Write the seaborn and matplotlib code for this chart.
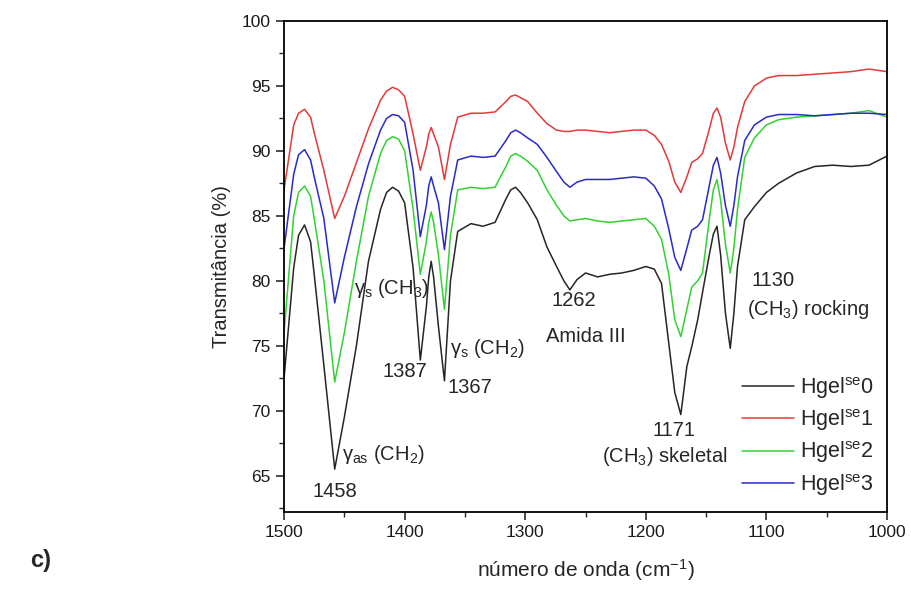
import numpy as np
import pandas as pd
import matplotlib
matplotlib.use("Agg")
import matplotlib.pyplot as plt
import seaborn as sns
from matplotlib.ticker import MultipleLocator

wavenumber = [1500, 1492, 1488, 1483, 1478, 1475, 1467, 1458, 1450, 1440,
              1430, 1420, 1415, 1410, 1405, 1400, 1393, 1387, 1382, 1380,
              1378, 1376, 1372, 1367, 1362, 1356, 1345, 1335, 1325, 1316,
              1312, 1308, 1304, 1298, 1290, 1282, 1274, 1268, 1263, 1257,
              1250, 1240, 1230, 1220, 1210, 1200, 1193, 1187, 1181, 1176,
              1171, 1166, 1162, 1157, 1153, 1147, 1144, 1141, 1138, 1134,
              1130, 1127, 1124, 1118, 1110, 1100, 1090, 1075, 1060, 1045,
              1030, 1015, 1000]

hgel0 = [72.5, 81.0, 83.5, 84.3, 83.0, 80.5, 73.5, 65.5, 69.5, 75.0,
         81.5, 85.5, 86.8, 87.2, 86.9, 86.0, 81.0, 73.9, 78.0, 80.3,
         81.5, 80.3, 76.5, 72.3, 80.0, 83.8, 84.4, 84.2, 84.5, 86.3,
         87.0, 87.2, 86.8, 86.0, 84.7, 82.6, 81.1, 80.0, 79.3, 80.1,
         80.6, 80.3, 80.5, 80.6, 80.8, 81.1, 80.9, 79.8, 75.2, 71.4,
         69.7, 73.4, 74.9, 77.0, 79.1, 82.2, 83.6, 84.2, 82.0, 77.5,
         74.8, 77.5, 81.1, 84.7, 85.7, 86.8, 87.5, 88.3, 88.8, 88.9,
         88.8, 88.9, 89.6]

hgel1 = [87.0, 92.0, 92.9, 93.2, 92.6, 91.4, 88.5, 84.8, 86.5, 89.1,
         91.7, 93.9, 94.6, 94.9, 94.7, 94.2, 91.3, 88.5, 90.3, 91.3,
         91.8, 91.3, 90.3, 87.8, 90.5, 92.6, 92.9, 92.9, 93.0, 93.8,
         94.2, 94.3, 94.1, 93.8, 92.9, 92.1, 91.6, 91.5, 91.5, 91.6,
         91.6, 91.5, 91.4, 91.5, 91.6, 91.6, 91.2, 90.5, 89.2, 87.6,
         86.8, 88.0, 89.1, 89.4, 89.8, 91.8, 92.9, 93.3, 92.6, 90.6,
         89.3, 90.3, 91.8, 93.8, 95.0, 95.6, 95.8, 95.8, 95.9, 96.0,
         96.1, 96.3, 96.1]

hgel2 = [76.0, 85.0, 86.8, 87.3, 86.5, 84.8, 80.0, 72.2, 76.0, 81.5,
         86.5, 89.8, 90.8, 91.1, 90.9, 90.0, 85.5, 80.5, 83.0, 84.5,
         85.3, 84.5, 82.0, 77.8, 83.5, 87.0, 87.2, 87.1, 87.2, 88.8,
         89.6, 89.8, 89.6, 89.2, 88.5, 87.0, 85.8, 85.0, 84.6, 84.7,
         84.8, 84.6, 84.5, 84.6, 84.7, 84.8, 84.2, 83.2, 80.5, 77.0,
         75.7, 77.8, 79.5, 80.0, 80.6, 85.0, 87.0, 87.8, 86.2, 82.8,
         80.6, 82.5, 85.5, 89.5, 91.0, 92.0, 92.4, 92.6, 92.7, 92.8,
         92.9, 93.1, 92.6]

hgel3 = [82.5, 88.2, 89.7, 90.1, 89.3, 88.0, 84.8, 78.3, 81.8, 85.7,
         89.0, 91.6, 92.5, 92.8, 92.7, 92.2, 88.5, 83.4, 85.8, 87.3,
         88.0, 87.3, 86.0, 82.4, 86.5, 89.3, 89.6, 89.5, 89.6, 90.8,
         91.4, 91.6, 91.4, 91.0, 90.5, 89.5, 88.4, 87.6, 87.2, 87.6,
         87.8, 87.8, 87.8, 87.9, 88.0, 87.9, 87.3, 86.3, 84.0, 81.8,
         80.8, 82.5, 83.9, 84.2, 84.7, 87.5, 88.9, 89.5, 88.3, 85.8,
         84.2, 85.8, 88.0, 90.8, 92.0, 92.6, 92.8, 92.8, 92.7, 92.8,
         92.9, 92.9, 92.8]

series_labels = [r"Hgel$^{se}$0", r"Hgel$^{se}$1", r"Hgel$^{se}$2", r"Hgel$^{se}$3"]
series_values = [hgel0, hgel1, hgel2, hgel3]
colors = ["#262626", "#e23a3a", "#33d133", "#2a2ac8"]

x_ticks = [1500, 1400, 1300, 1200, 1100, 1000]
y_ticks = [65, 70, 75, 80, 85, 90, 95, 100]

frames = []
for lab, vals in zip(series_labels, series_values):
    frames.append(pd.DataFrame({"wn": wavenumber, "T": vals, "sample": lab}))
df = pd.concat(frames, ignore_index=True)

sns.set_style("ticks")
plt.rcParams["font.family"] = ["Liberation Sans", "DejaVu Sans"]
plt.rcParams["mathtext.fontset"] = "custom"
plt.rcParams["mathtext.rm"] = "Liberation Sans"
plt.rcParams["mathtext.it"] = "Liberation Sans"
plt.rcParams["mathtext.bf"] = "Liberation Sans:bold"

fig = plt.figure(figsize=(9.11, 5.90), dpi=100)
ax = fig.add_axes([0.3118, 0.1322, 0.9737 - 0.3118, 0.9644 - 0.1322])

sns.lineplot(data=df, x="wn", y="T", hue="sample", palette=dict(zip(series_labels, colors)),
             estimator=None, linewidth=1.1, ax=ax, legend=True)

ax.set_xlim(1500, 1000)
ax.set_ylim(62.2, 100)
ax.set_xticks(x_ticks)
ax.set_yticks(y_ticks)
ax.xaxis.set_minor_locator(MultipleLocator(50))
ax.yaxis.set_minor_locator(MultipleLocator(2.5))
ax.tick_params(axis="both", which="major", length=6, width=1.1, labelsize=12.5,
               direction="out", colors="#1a1a1a")
ax.tick_params(axis="both", which="minor", length=3.5, width=1.0, direction="out")
for s in ax.spines.values():
    s.set_linewidth(1.3)
    s.set_color("black")

ax.set_xlabel(r"número de onda (cm$^{-1}$)", fontsize=15, labelpad=12)
ax.set_ylabel("Transmitância (%)", fontsize=14.5, labelpad=8)

fs = 14.5
ax.text(1452, 66.6, r"$\gamma_{as}$ (CH$_2$)", fontsize=fs, ha="left", va="center")
ax.text(1458, 63.8, "1458", fontsize=fs, ha="center", va="center")
ax.text(1442, 79.4, r"$\gamma_s$ (CH$_3$)", fontsize=fs, ha="left", va="center")
ax.text(1400, 73.0, "1387", fontsize=fs, ha="center", va="center")
ax.text(1362, 74.8, r"$\gamma_s$ (CH$_2$)", fontsize=fs, ha="left", va="center")
ax.text(1346, 71.8, "1367", fontsize=fs, ha="center", va="center")
ax.text(1260, 78.5, "1262", fontsize=fs, ha="center", va="center")
ax.text(1250, 75.7, "Amida III", fontsize=fs, ha="center", va="center")
ax.text(1177, 68.5, "1171", fontsize=fs, ha="center", va="center")
ax.text(1184, 66.5, r"(CH$_3$) skeletal", fontsize=fs, ha="center", va="center")
ax.text(1112, 80.0, "1130", fontsize=fs, ha="left", va="center")
ax.text(1116, 77.8, r"(CH$_3$) rocking", fontsize=fs, ha="left", va="center")

handles, labels = ax.get_legend_handles_labels()
ax.legend(handles, labels, loc="lower right", frameon=False, fontsize=15.5,
          handlelength=2.4, handletextpad=0.25, labelspacing=0.3,
          bbox_to_anchor=(1.01, -0.01))

fig.text(0.045, 0.05, "c)", fontsize=17, fontweight="bold", ha="center", va="center")

fig.savefig("out.png", dpi=100)
